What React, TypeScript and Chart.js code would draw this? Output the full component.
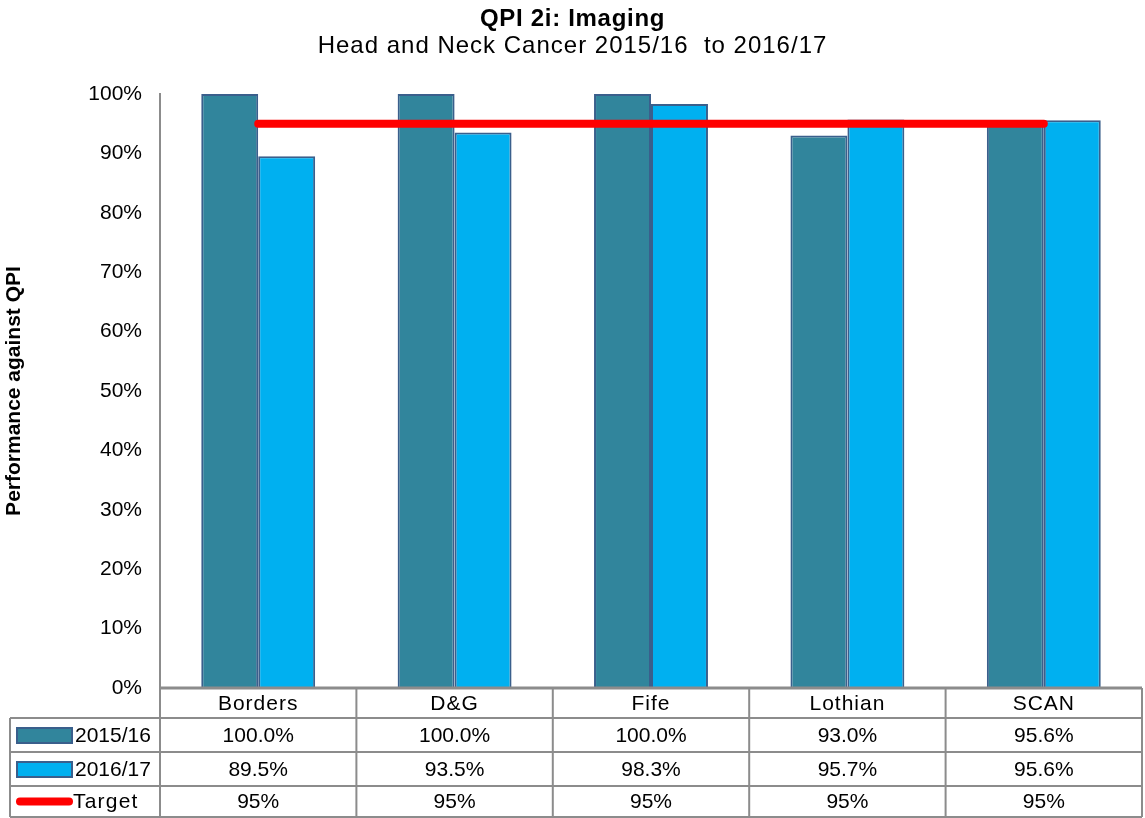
import React, { useEffect, useRef } from 'react';
import { Chart, registerables } from 'chart.js';

Chart.register(...registerables);

const categories = ['Borders', 'D&G', 'Fife', 'Lothian', 'SCAN'];
const series2015 = [100.0, 100.0, 100.0, 93.0, 95.6];
const series2016 = [89.5, 93.5, 98.3, 95.7, 95.6];
const targetValues = [95, 95, 95, 95, 95];
const seriesLabels = ['2015/16', '2016/17', 'Target'];
const yTickValues = [0, 10, 20, 30, 40, 50, 60, 70, 80, 90, 100];
const titleText = 'QPI 2i: Imaging';
const subtitleText = 'Head and Neck Cancer 2015/16  to 2016/17';

const COLOR_2015 = '#31859C';
const COLOR_2016 = '#00B0F0';
const BAR_BORDER = '#3A5F8C';
const TARGET_COLOR = '#FF0000';
const GRID_GRAY = '#8C8C8C';
const FONT = '"Liberation Sans", Arial, sans-serif';

const titlePlugin = {
  id: 'customTitle',
  afterDraw(chart: any) {
    const ctx: any = chart.ctx;
    ctx.save();
    ctx.fillStyle = '#000';
    ctx.textAlign = 'center';
    ctx.textBaseline = 'middle';
    const cx = chart.width / 2;
    ctx.letterSpacing = '0.7px';
    ctx.font = `bold 24px ${FONT}`;
    ctx.fillText(titleText, cx, 19);
    ctx.letterSpacing = '1px';
    ctx.font = `24px ${FONT}`;
    ctx.fillText(subtitleText, cx, 46);
    ctx.restore();
  },
};

const tablePlugin = {
  id: 'dataTable',
  afterDraw(chart: any) {
    const ctx: any = chart.ctx;
    const xs = chart.scales.x;
    const area = chart.chartArea;
    const n = categories.length;
    const colW = (area.right - area.left) / n;
    const tableLeft = 10;
    const rowY = [area.bottom, 718, 752, 786, 817];
    ctx.save();
    ctx.strokeStyle = GRID_GRAY;
    ctx.lineWidth = 2;
    ctx.beginPath();
    for (let r = 1; r < rowY.length; r++) {
      ctx.moveTo(tableLeft, rowY[r]);
      ctx.lineTo(area.right, rowY[r]);
    }
    ctx.moveTo(tableLeft, rowY[1]);
    ctx.lineTo(tableLeft, rowY[4]);
    for (let i = 0; i <= n; i++) {
      const x = i < n ? xs.getPixelForValue(i) - colW / 2 : area.right;
      ctx.moveTo(x, area.bottom);
      ctx.lineTo(x, rowY[4]);
    }
    ctx.stroke();
    ctx.lineWidth = 3;
    ctx.beginPath();
    ctx.moveTo(area.left, area.bottom);
    ctx.lineTo(area.right, area.bottom);
    ctx.stroke();

    ctx.fillStyle = '#000';
    ctx.font = `21px ${FONT}`;
    ctx.textAlign = 'center';
    ctx.textBaseline = 'middle';
    const rowsData = [series2015, series2016, targetValues];
    for (let i = 0; i < n; i++) {
      const cx = xs.getPixelForValue(i);
      ctx.letterSpacing = '1px';
      ctx.fillText(categories[i], cx, (rowY[0] + rowY[1]) / 2 + 1);
      ctx.letterSpacing = '0px';
      for (let r = 0; r < 3; r++) {
        const v = rowsData[r][i];
        const txt = r < 2 ? v.toFixed(1) + '%' : `${v}%`;
        ctx.fillText(txt, cx, (rowY[r + 1] + rowY[r + 2]) / 2 + 1);
      }
    }
    const keyX = 17;
    const keyW = 55;
    for (let r = 0; r < 3; r++) {
      const cy = (rowY[r + 1] + rowY[r + 2]) / 2;
      if (r < 2) {
        ctx.fillStyle = r === 0 ? COLOR_2015 : COLOR_2016;
        ctx.fillRect(keyX, cy - 7, keyW, 15);
        ctx.strokeStyle = BAR_BORDER;
        ctx.lineWidth = 2;
        ctx.strokeRect(keyX, cy - 7, keyW, 15);
      } else {
        ctx.strokeStyle = TARGET_COLOR;
        ctx.lineWidth = 8;
        ctx.lineCap = 'round';
        ctx.beginPath();
        ctx.moveTo(keyX + 3, cy);
        ctx.lineTo(keyX + keyW - 3, cy);
        ctx.stroke();
      }
      ctx.fillStyle = '#000';
      ctx.textAlign = 'left';
      ctx.letterSpacing = r < 2 ? '0px' : '1.2px';
      ctx.fillText(seriesLabels[r], r < 2 ? 75 : 73, cy + 1);
    }
    ctx.restore();
  },
};

export default function App() {
  const canvasRef = useRef<HTMLCanvasElement | null>(null);

  useEffect(() => {
    if (!canvasRef.current) return;
    Chart.defaults.font.family = FONT;
    const chart = new Chart(canvasRef.current, {
      type: 'bar',
      data: {
        labels: categories,
        datasets: [
          {
            type: 'bar',
            label: seriesLabels[0],
            data: series2015,
            backgroundColor: COLOR_2015,
            borderColor: BAR_BORDER,
            borderWidth: 2,
            categoryPercentage: 0.58,
            barPercentage: 1,
            order: 1,
          },
          {
            type: 'bar',
            label: seriesLabels[1],
            data: series2016,
            backgroundColor: COLOR_2016,
            borderColor: BAR_BORDER,
            borderWidth: 2,
            categoryPercentage: 0.58,
            barPercentage: 1,
            order: 1,
          },
          {
            type: 'line',
            label: seriesLabels[2],
            data: targetValues,
            borderColor: TARGET_COLOR,
            backgroundColor: TARGET_COLOR,
            borderWidth: 8,
            borderCapStyle: 'round',
            pointRadius: 0,
            fill: false,
            order: 0,
          },
        ],
      } as any,
      plugins: [titlePlugin, tablePlugin],
      options: {
        responsive: false,
        animation: false,
        devicePixelRatio: 1,
        layout: { padding: { left: 0, right: 3, top: 94, bottom: 130 } },
        plugins: {
          legend: { display: false },
          tooltip: { enabled: false },
          title: { display: false },
          subtitle: { display: false },
        },
        scales: {
          x: {
            display: false,
            offset: true,
          },
          y: {
            min: 0,
            max: 100,
            afterFit: (scale: any) => {
              scale.width = 160;
            },
            afterBuildTicks: (scale: any) => {
              scale.ticks = yTickValues.map((v) => ({ value: v }));
            },
            grid: { display: false, drawTicks: false },
            border: { display: true, color: GRID_GRAY, width: 2 },
            ticks: {
              padding: 18,
              color: '#000',
              font: { size: 21 },
              callback: (v: any) => `${v}%`,
            },
            title: {
              display: true,
              text: 'Performance against QPI',
              color: '#000',
              font: { size: 21, weight: 'bold', lineHeight: 1.2 },
              padding: { top: 2, bottom: 0 },
            },
          },
        },
      } as any,
    });
    return () => chart.destroy();
  }, []);

  return (
    <div style={{ position: 'fixed', left: 0, top: 0, width: 1145, height: 818, background: '#fff' }}>
      <canvas ref={canvasRef} width={1145} height={818} style={{ width: 1145, height: 818, display: 'block' }} />
    </div>
  );
}
